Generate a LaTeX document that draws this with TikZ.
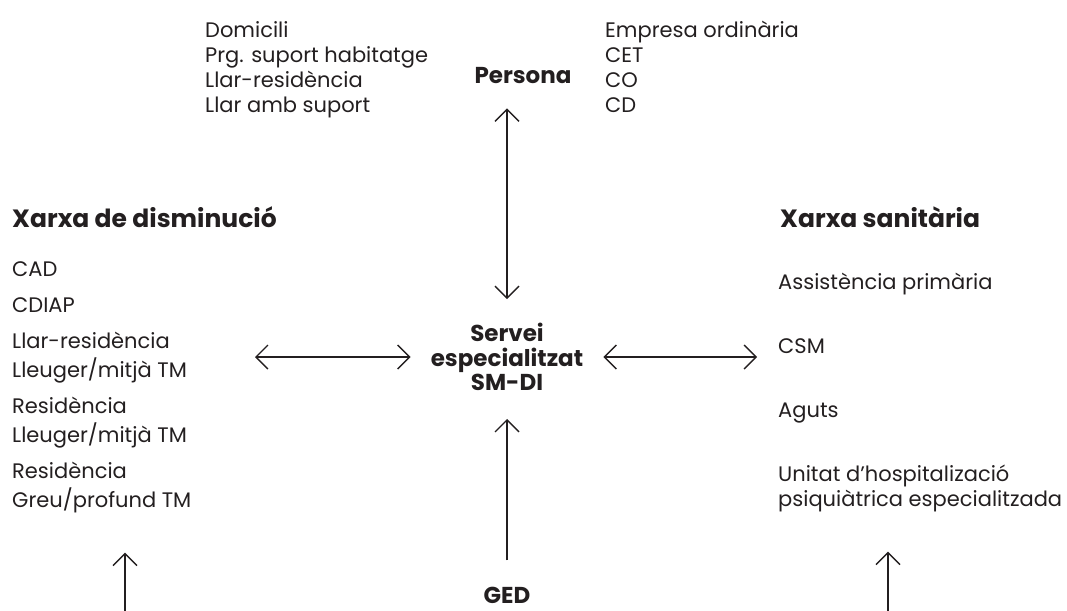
\documentclass[tikz,border=0pt]{standalone}
\usepackage{fontspec}
\setmainfont{Poppins}
\usetikzlibrary{positioning,arrows.meta}
\definecolor{ink}{HTML}{231F20}

\begin{document}
\begin{tikzpicture}[x=1pt,y=-1pt,
        every node/.style={inner sep=0pt,text=ink},
        txt/.style={font=\fontsize{21}{25}\selectfont,align=left,anchor=base west},
        head/.style={font=\fontsize{23}{24.5}\selectfont\bfseries,align=center},
        link/.style={{Straight Barb[length=12pt,width=24pt]}-{Straight Barb[length=12pt,width=24pt]},
                     line width=1.4pt,draw=ink},
        up/.style={-{Straight Barb[length=12pt,width=24pt]},line width=1.4pt,draw=ink}]
  \useasboundingbox (0,0) rectangle (1067,610);

  % centre
  \node[head] (servei) at (507,357) {Servei\\especialitzat\\SM-DI};
  \node[head,anchor=base] (persona) at (523,83) {Persona};
  \node[head,anchor=base] (ged) at (507,603) {GED};

  % top lists (base = last line)
  \node[txt] (llars) at (205,112) {Domicili\\Prg. suport habitatge\\Llar-residència\\Llar amb suport};
  \node[txt] (feina) at (605,112) {Empresa ordinària\\CET\\CO\\CD};

  % xarxes
  \node[head,font=\fontsize{25}{25}\selectfont\bfseries,anchor=base west] (dishead) at (12,227) {Xarxa de disminució};
  \node[txt,font=\fontsize{21}{29}\selectfont] (dis) at (12,507)
       {CAD\\[7pt]CDIAP\\[7pt]Llar-residència\\Lleuger/mitjà TM\\[7pt]Residència\\Lleuger/mitjà TM\\[7pt]Residència\\Greu/profund TM};
  \node[head,font=\fontsize{25}{25}\selectfont\bfseries,anchor=base west] (sanhead) at (780,227) {Xarxa sanitària};
  \node[txt] (san) at (778,506)
       {Assistència primària\\[39pt]CSM\\[39pt]Aguts\\[39pt]Unitat d’hospitalizació\\psiquiàtrica especialitzada};

  \coordinate (dis-e) at (255,357);
  \coordinate (san-w) at (757,357);
  \coordinate (dis-foot) at (125,612);
  \coordinate (san-foot) at (888,612);

  \draw[link,shorten <=24pt,shorten >=25pt] (servei.north) -- (servei.north |- persona.south);
  \draw[up,shorten <=26pt,shorten >=28pt] (ged.north) -- (servei.south);
  \draw[link,shorten >=20pt] (dis-e) -- (servei.west);
  \draw[link,shorten <=20pt] (servei.east) -- (san-w);
  \draw[up,shorten >=40pt] (dis-foot) -- (dis-foot |- dis.south);
  \draw[up,shorten >=40pt] (san-foot) -- (san-foot |- san.south);
\end{tikzpicture}
\end{document}
